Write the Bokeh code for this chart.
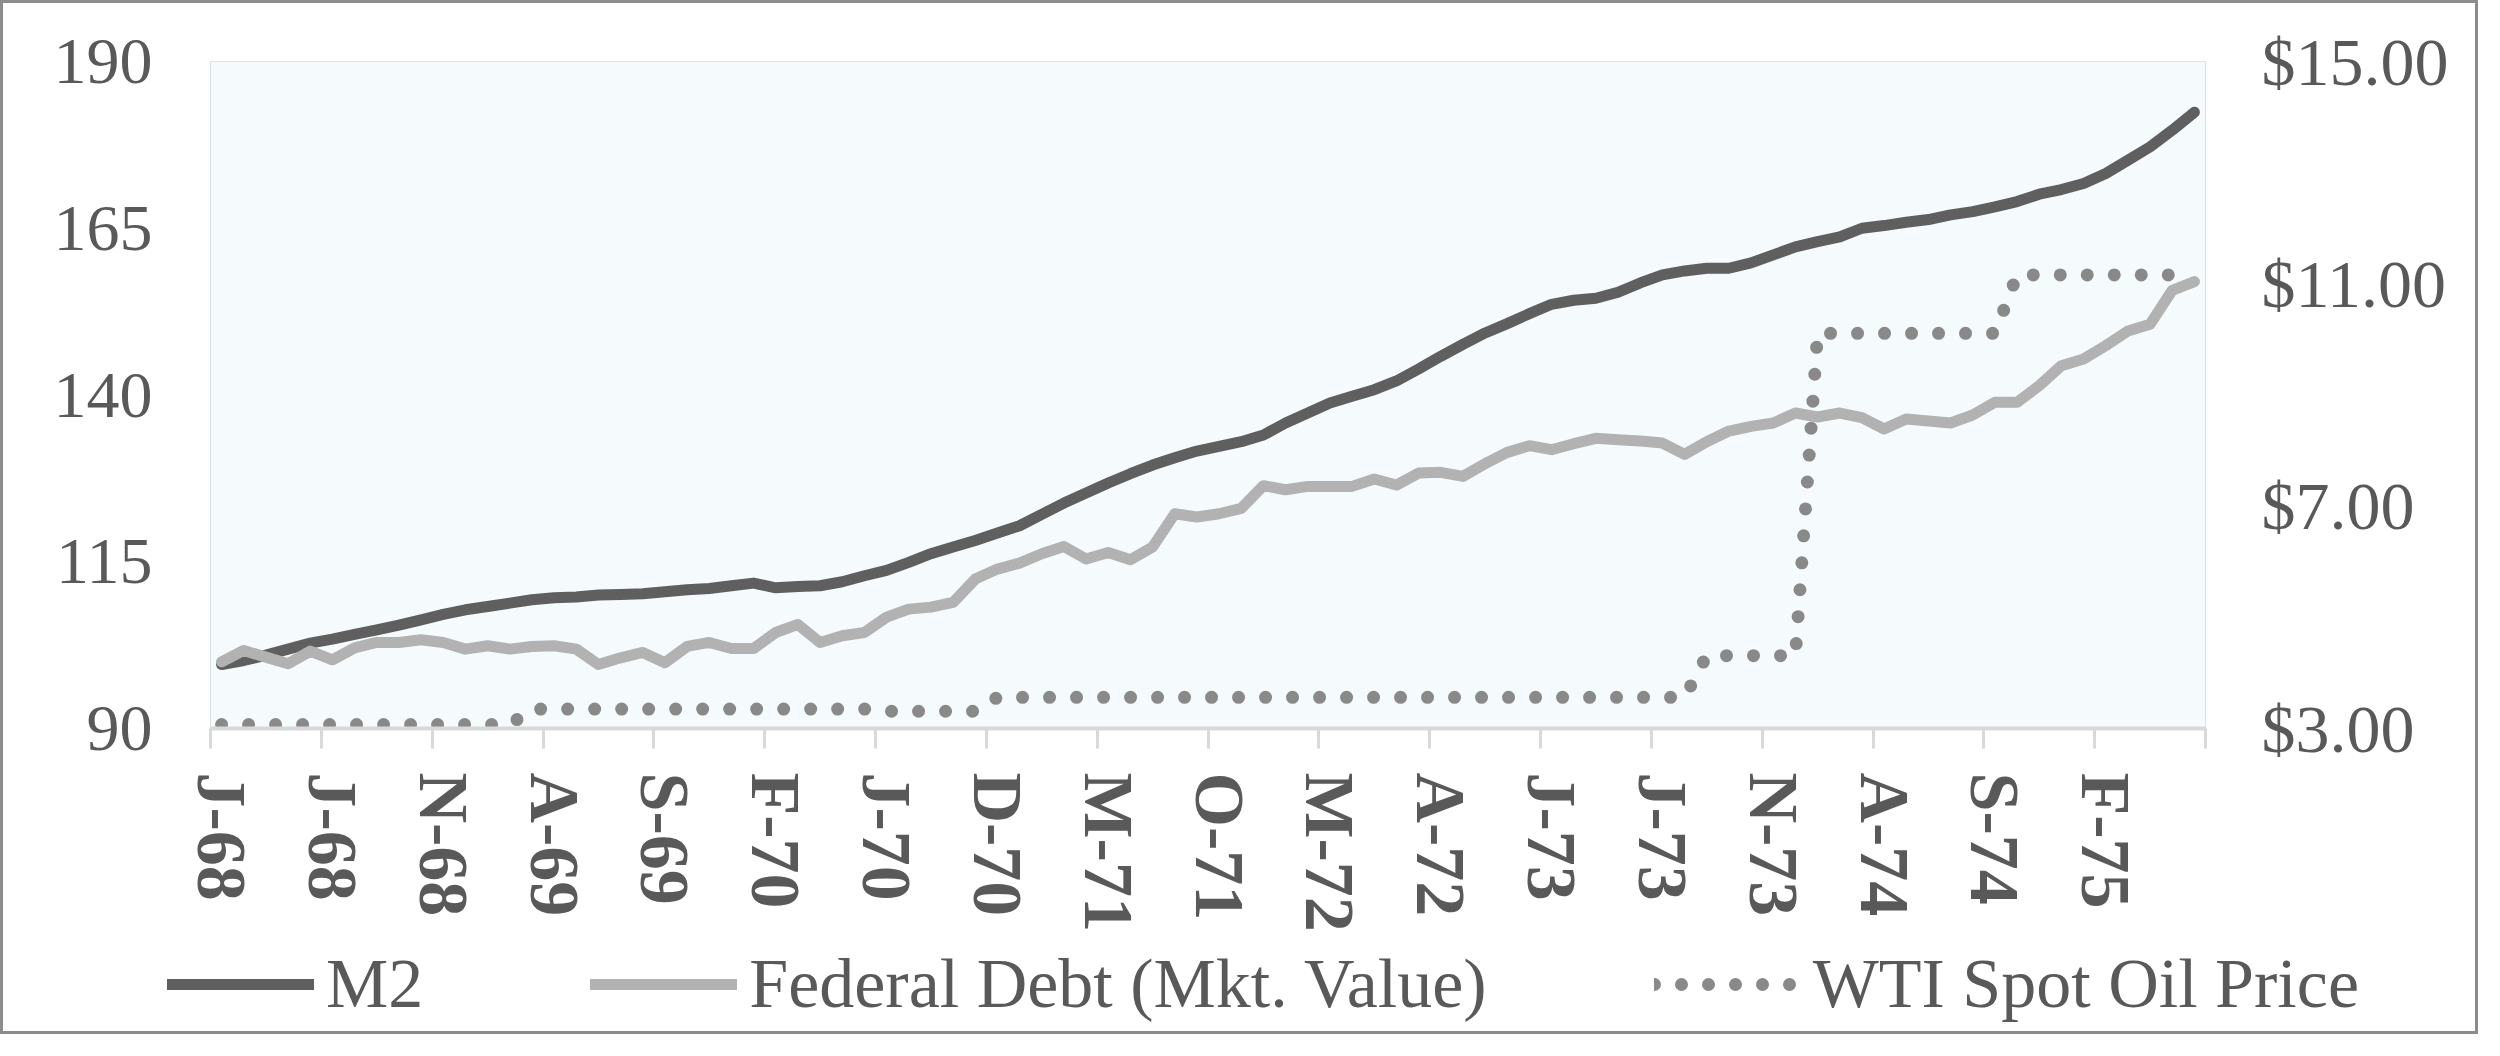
from bokeh.plotting import figure
from bokeh.models import Range1d, LinearAxis, FixedTicker, NumeralTickFormatter, Legend, LegendItem
from bokeh.embed import file_html
from bokeh.resources import INLINE

# monthly index, Jan 1968 .. Jun 1975
month_index = list(range(90))

m2 = [99.6, 100.2, 101.0, 101.9, 102.8, 103.4, 104.1, 104.8, 105.5, 106.3,
      107.1, 107.8, 108.3, 108.8, 109.3, 109.6, 109.7, 110.0, 110.1, 110.2,
      110.5, 110.8, 111.0, 111.4, 111.8, 111.1, 111.3, 111.4, 112.0, 112.9,
      113.7, 114.9, 116.2, 117.2, 118.2, 119.3, 120.4, 122.1, 123.8, 125.3,
      126.8, 128.2, 129.5, 130.6, 131.6, 132.3, 133.0, 134.0, 135.8, 137.3,
      138.8, 139.8, 140.8, 142.1, 143.9, 145.8, 147.6, 149.3, 150.7, 152.2,
      153.6, 154.2, 154.5, 155.4, 156.8, 158.0, 158.6, 159.0, 159.0, 159.8,
      161.0, 162.2, 163.0, 163.7, 165.0, 165.4, 165.9, 166.3, 167.0, 167.5,
      168.2, 169.0, 170.1, 170.8, 171.7, 173.2, 175.2, 177.2, 179.7, 182.4]

fed_debt = [100.0, 101.7, 100.7, 99.7, 101.6, 100.3, 102.1, 102.9, 102.9, 103.3,
            102.9, 101.9, 102.4, 101.9, 102.3, 102.4, 101.9, 99.6, 100.6, 101.4,
            99.85, 102.3, 102.9, 102.0, 102.0, 104.4, 105.6, 102.9, 103.9, 104.4,
            106.7, 107.9, 108.2, 108.9, 112.4, 113.9, 114.8, 116.2, 117.3, 115.4,
            116.4, 115.3, 117.2, 122.2, 121.7, 122.2, 123.0, 126.4, 125.8, 126.3,
            126.3, 126.3, 127.4, 126.5, 128.3, 128.4, 127.8, 129.7, 131.4, 132.4,
            131.8, 132.7, 133.5, 133.3, 133.1, 132.8, 131.1, 133.0, 134.6, 135.3,
            135.8, 137.3, 136.7, 137.3, 136.6, 134.9, 136.4, 136.1, 135.8, 137.0,
            138.9, 138.9, 141.4, 144.4, 145.4, 147.4, 149.6, 150.6, 155.7, 157.0]

wti = [3.07, 3.07, 3.07, 3.07, 3.07, 3.07, 3.07, 3.07, 3.07, 3.07,
       3.07, 3.07, 3.07, 3.07, 3.35, 3.35, 3.35, 3.35, 3.35, 3.35,
       3.35, 3.35, 3.35, 3.35, 3.35, 3.35, 3.35, 3.35, 3.35, 3.35,
       3.31, 3.31, 3.31, 3.31, 3.31, 3.56, 3.56, 3.56, 3.56, 3.56,
       3.56, 3.56, 3.56, 3.56, 3.56, 3.56, 3.56, 3.56, 3.56, 3.56,
       3.56, 3.56, 3.56, 3.56, 3.56, 3.56, 3.56, 3.56, 3.56, 3.56,
       3.56, 3.56, 3.56, 3.56, 3.56, 3.56, 3.56, 4.31, 4.31, 4.31,
       4.31, 4.31, 10.11, 10.11, 10.11, 10.11, 10.11, 10.11, 10.11, 10.11,
       10.11, 11.16, 11.16, 11.16, 11.16, 11.16, 11.16, 11.16, 11.16, 11.16]

tick_positions = [0, 5, 10, 15, 20, 25, 30, 35, 40, 45, 50, 55, 60, 65, 70, 75, 80, 85]
tick_labels = ["J-68", "J-68", "N-68", "A-69", "S-69", "F-70", "J-70", "D-70", "M-71",
               "O-71", "M-72", "A-72", "J-73", "J-73", "N-73", "A-74", "S-74", "F-75"]
left_ticks = [90, 115, 140, 165, 190]
right_ticks = [3, 7, 11, 15]
series_names = ["M2", "Federal Debt (Mkt. Value)", "WTI Spot Oil Price"]

TEXT = "#595959"
FONT = "Liberation Serif"
C_M2, C_FD, C_OIL = "#5F5F5F", "#B2B2B2", "#898989"
BORDER = "3px solid #8C8C8C"

W = 2478
H_MAIN = 940
H_LEG = 94


def draw_series(fig):
    r1 = fig.line(month_index, m2, line_color=C_M2, line_width=11,
                  line_join="round", line_cap="round")
    r2 = fig.line(month_index, fed_debt, line_color=C_FD, line_width=11,
                  line_join="round", line_cap="round")
    r3 = fig.line(month_index, wti, y_range_name="oil", line_color=C_OIL, line_width=13,
                  line_dash="0 27", line_cap="round", line_join="round")
    return r1, r2, r3


p = figure(width=W, height=H_MAIN, output_backend="svg", toolbar_location=None,
           x_range=Range1d(-0.5, 89.5), y_range=Range1d(90, 190),
           min_border_left=207, min_border_right=276, min_border_top=58,
           min_border_bottom=H_MAIN - 58 - 667)
p.styles = {"border-top": BORDER, "border-left": BORDER, "border-right": BORDER}
p.background_fill_color = "#F5FAFD"
p.border_fill_color = "white"
p.outline_line_color = "#DCE1E5"
p.outline_line_width = 1
p.xgrid.visible = False
p.ygrid.visible = False
p.extra_y_ranges = {"oil": Range1d(3, 15)}
draw_series(p)

# x axis
xa = p.xaxis[0]
xa.ticker = FixedTicker(ticks=tick_positions, minor_ticks=[t - 0.5 for t in range(0, 91, 5)])
xa.major_label_overrides = dict(zip(tick_positions, tick_labels))
xa.major_label_orientation = "vertical"
xa.major_tick_out = 0
xa.major_tick_in = 0
xa.minor_tick_out = 20
xa.minor_tick_in = 0
xa.minor_tick_line_color = "#D9D9D9"
xa.minor_tick_line_width = 3
xa.axis_line_color = "#D9D9D9"
xa.axis_line_width = 4
xa.major_label_standoff = 24
xa.major_label_text_font = FONT
xa.major_label_text_font_style = "bold"
xa.major_label_text_font_size = "70px"
xa.major_label_text_color = TEXT

# left axis
ya = p.yaxis[0]
ya.ticker = FixedTicker(ticks=left_ticks)
ya.major_tick_out = 0
ya.major_tick_in = 0
ya.minor_tick_out = 0
ya.minor_tick_in = 0
ya.axis_line_color = None
ya.major_label_standoff = 58
ya.major_label_text_font = FONT
ya.major_label_text_font_size = "66px"
ya.major_label_text_color = TEXT

# right axis
ra = LinearAxis(y_range_name="oil", ticker=FixedTicker(ticks=right_ticks),
                formatter=NumeralTickFormatter(format="$0.00"))
ra.major_tick_out = 0
ra.major_tick_in = 0
ra.minor_tick_out = 0
ra.minor_tick_in = 0
ra.axis_line_color = None
ra.major_label_standoff = 56
ra.major_label_text_font = FONT
ra.major_label_text_font_size = "68px"
ra.major_label_text_color = TEXT
p.add_layout(ra, "right")

# legend strip below the chart (same series, ranges chosen so only the legend shows)
pl = figure(width=W, height=H_LEG, output_backend="svg", toolbar_location=None,
            x_axis_location=None, y_axis_location=None,
            x_range=Range1d(-0.5, 89.5), y_range=Range1d(1000, 1001),
            min_border_left=0, min_border_right=0, min_border_top=0, min_border_bottom=0)
pl.styles = {"border-bottom": BORDER, "border-left": BORDER, "border-right": BORDER}
pl.extra_y_ranges = {"oil": Range1d(1000, 1001)}
pl.outline_line_color = None
pl.background_fill_color = "white"
pl.border_fill_color = "white"
pl.xgrid.visible = False
pl.ygrid.visible = False
k_m2, k_fd, k_oil = draw_series(pl)

legend = Legend(items=[LegendItem(label=series_names[0], renderers=[k_m2]),
                       LegendItem(label=series_names[1], renderers=[k_fd]),
                       LegendItem(label=series_names[2], renderers=[k_oil])],
                orientation="horizontal", location=(164, 10),
                glyph_width=147, glyph_height=80, label_height=80, label_standoff=12,
                spacing=167, padding=0, margin=0, border_line_alpha=0,
                background_fill_alpha=0,
                label_text_font=FONT, label_text_font_size="70px", label_text_color=TEXT)
pl.add_layout(legend)

open("out.html", "w").write(file_html([p, pl], INLINE))
